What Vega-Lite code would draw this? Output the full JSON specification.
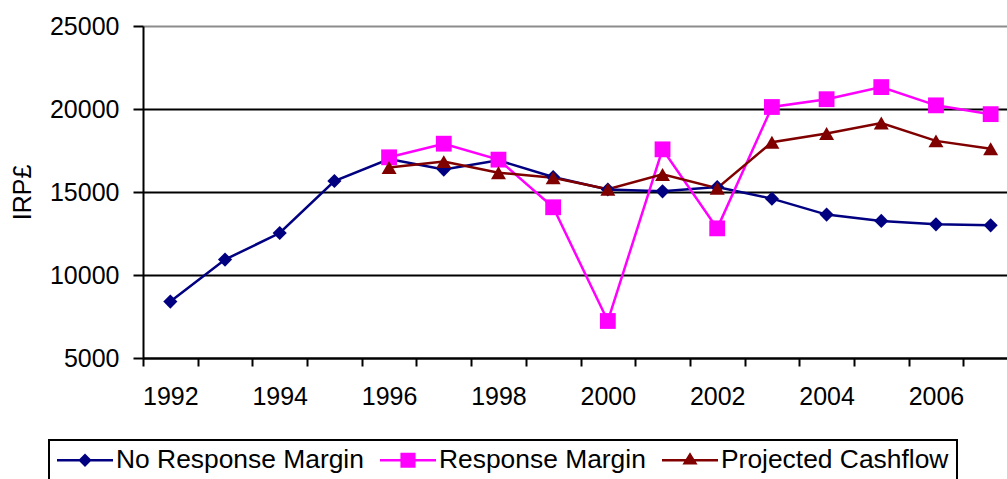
{
  "$schema": "https://vega.github.io/schema/vega-lite/v6.json",
  "width": 864,
  "height": 332,
  "autosize": {"type": "none"},
  "padding": {"left": 143, "top": 26, "right": 0, "bottom": 121},
  "background": "white",
  "config": {
    "view": {"stroke": null},
    "font": "Liberation Sans",
    "axis": {
      "domainColor": "black",
      "domainWidth": 2,
      "tickColor": "black",
      "tickWidth": 2,
      "labelColor": "black",
      "labelFont": "Liberation Sans",
      "labelFontSize": 25,
      "titleFont": "Liberation Sans",
      "titleColor": "black"
    }
  },
  "data": {
    "values": [
      {"year": 1992, "series": "No Response Margin", "value": 8400},
      {"year": 1993, "series": "No Response Margin", "value": 10930},
      {"year": 1994, "series": "No Response Margin", "value": 12530},
      {"year": 1995, "series": "No Response Margin", "value": 15660},
      {"year": 1996, "series": "No Response Margin", "value": 16980},
      {"year": 1997, "series": "No Response Margin", "value": 16350},
      {"year": 1998, "series": "No Response Margin", "value": 16910},
      {"year": 1999, "series": "No Response Margin", "value": 15900},
      {"year": 2000, "series": "No Response Margin", "value": 15150},
      {"year": 2001, "series": "No Response Margin", "value": 15040},
      {"year": 2002, "series": "No Response Margin", "value": 15300},
      {"year": 2003, "series": "No Response Margin", "value": 14600},
      {"year": 2004, "series": "No Response Margin", "value": 13640},
      {"year": 2005, "series": "No Response Margin", "value": 13260},
      {"year": 2006, "series": "No Response Margin", "value": 13050},
      {"year": 2007, "series": "No Response Margin", "value": 12990},
      {"year": 1996, "series": "Response Margin", "value": 17090},
      {"year": 1997, "series": "Response Margin", "value": 17910},
      {"year": 1998, "series": "Response Margin", "value": 16950},
      {"year": 1999, "series": "Response Margin", "value": 14080},
      {"year": 2000, "series": "Response Margin", "value": 7230},
      {"year": 2001, "series": "Response Margin", "value": 17570},
      {"year": 2002, "series": "Response Margin", "value": 12810},
      {"year": 2003, "series": "Response Margin", "value": 20120},
      {"year": 2004, "series": "Response Margin", "value": 20590},
      {"year": 2005, "series": "Response Margin", "value": 21320},
      {"year": 2006, "series": "Response Margin", "value": 20220},
      {"year": 2007, "series": "Response Margin", "value": 19690},
      {"year": 1996, "series": "Projected Cashflow", "value": 16480},
      {"year": 1997, "series": "Projected Cashflow", "value": 16830},
      {"year": 1998, "series": "Projected Cashflow", "value": 16160},
      {"year": 1999, "series": "Projected Cashflow", "value": 15860},
      {"year": 2000, "series": "Projected Cashflow", "value": 15170},
      {"year": 2001, "series": "Projected Cashflow", "value": 16060},
      {"year": 2002, "series": "Projected Cashflow", "value": 15230},
      {"year": 2003, "series": "Projected Cashflow", "value": 18000},
      {"year": 2004, "series": "Projected Cashflow", "value": 18520},
      {"year": 2005, "series": "Projected Cashflow", "value": 19160},
      {"year": 2006, "series": "Projected Cashflow", "value": 18080},
      {"year": 2007, "series": "Projected Cashflow", "value": 17600}
    ]
  },
  "encoding": {
    "x": {
      "field": "year",
      "type": "ordinal",
      "bandPosition": 0.5,
      "scale": {"type": "band", "paddingInner": 0, "paddingOuter": 0, "range": [0, 875]},
      "axis": {
        "title": null,
        "tickBand": "extent",
        "labelExpr": "datum.value % 2 == 0 ? datum.label : ''",
        "labelAngle": 0,
        "labelOverlap": false,
        "tickSize": 8,
        "labelPadding": 18,
        "grid": false
      }
    },
    "y": {
      "field": "value",
      "type": "quantitative",
      "scale": {"domain": [5000, 25000], "nice": false, "zero": false},
      "axis": {
        "title": "IRP£",
        "values": [5000, 10000, 15000, 20000, 25000],
        "format": "d",
        "grid": true,
        "gridColor": {"condition": {"test": "datum.value == 25000", "value": "#8c8c8c"}, "value": "black"},
        "gridWidth": 2,
        "tickSize": 10,
        "labelPadding": 14,
        "titlePadding": 14,
        "titleFontSize": 25,
        "titleFontWeight": "normal"
      }
    },
    "color": {
      "field": "series",
      "type": "nominal",
      "scale": {
        "domain": ["No Response Margin", "Response Margin", "Projected Cashflow"],
        "range": ["#000080", "#FF00FF", "#800000"]
      },
      "legend": {
        "orient": "none",
        "legendX": -94,
        "legendY": 414,
        "direction": "horizontal",
        "title": null,
        "labelFont": "Liberation Sans",
        "labelFontSize": 26.4,
        "labelColor": "black",
        "labelLimit": 0,
        "labelOffset": 3,
        "symbolOffset": 0,
        "symbolSize": 3136,
        "symbolStrokeWidth": 0,
        "clipHeight": 24,
        "padding": 8,
        "strokeColor": "black",
        "columnPadding": 16,
        "encode": {
          "symbols": {
            "update": {
              "shape": {"signal": "datum.value === 'No Response Margin' ? 'M-1,-0.045L1,-0.045L1,0.045L-1,0.045ZM-0.24,0L0,-0.24L0.24,0L0,0.24Z' : datum.value === 'Response Margin' ? 'M-1,-0.045L1,-0.045L1,0.045L-1,0.045ZM-0.27,-0.27L0.27,-0.27L0.27,0.27L-0.27,0.27Z' : 'M-1,-0.045L1,-0.045L1,0.045L-1,0.045ZM0,-0.29L0.27,0.15L-0.27,0.15Z'"},
              "fill": {"scale": "color", "field": "value"},
              "fillOpacity": {"value": 1},
              "strokeWidth": {"value": 0}
            }
          },
          "legend": {"update": {"strokeWidth": {"value": 2}}}
        }
      }
    }
  },
  "layer": [
    {"mark": {"type": "line", "strokeWidth": 2.5}},
    {
      "transform": [{"filter": "datum.series === 'No Response Margin'"}],
      "mark": {"type": "point", "filled": true, "opacity": 1, "shape": "diamond", "size": 200}
    },
    {
      "transform": [{"filter": "datum.series === 'Response Margin'"}],
      "mark": {"type": "point", "filled": true, "opacity": 1, "shape": "square", "size": 250}
    },
    {
      "transform": [{"filter": "datum.series === 'Projected Cashflow'"}],
      "mark": {"type": "point", "filled": true, "opacity": 1, "shape": "triangle-up", "size": 225}
    }
  ]
}
